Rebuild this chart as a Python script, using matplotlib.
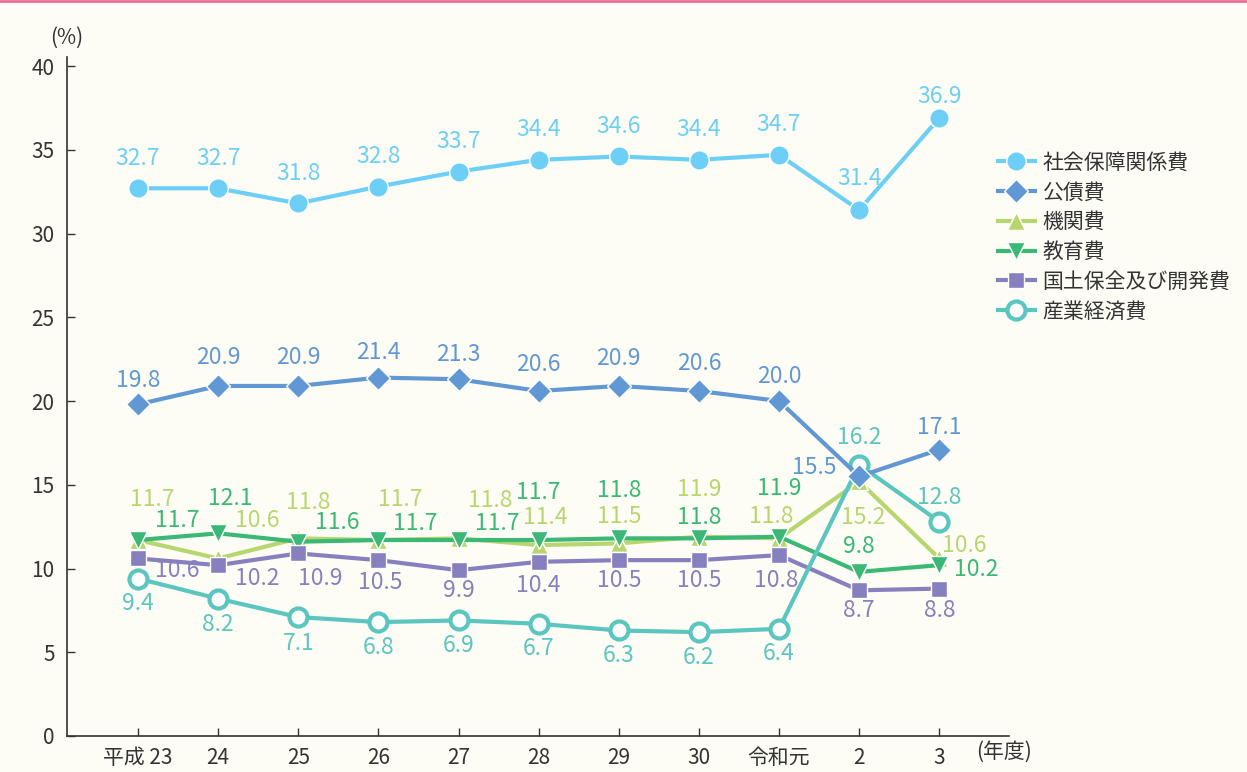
import matplotlib
matplotlib.use("Agg")
import matplotlib.pyplot as plt
from matplotlib.lines import Line2D
import numpy as np

plt.rcParams['font.family'] = ['Noto Sans CJK JP', 'DejaVu Sans']

years = ["平成 23", "24", "25", "26", "27", "28", "29", "30", "令和元", "2", "3"]

shakai = [32.7, 32.7, 31.8, 32.8, 33.7, 34.4, 34.6, 34.4, 34.7, 31.4, 36.9]
kousai = [19.8, 20.9, 20.9, 21.4, 21.3, 20.6, 20.9, 20.6, 20.0, 15.5, 17.1]
kikan = [11.7, 10.6, 11.8, 11.7, 11.8, 11.4, 11.5, 11.9, 11.8, 15.2, 10.6]
kyouiku = [11.7, 12.1, 11.6, 11.7, 11.7, 11.7, 11.8, 11.8, 11.9, 9.8, 10.2]
kokudo = [10.6, 10.2, 10.9, 10.5, 9.9, 10.4, 10.5, 10.5, 10.8, 8.7, 8.8]
sangyo = [9.4, 8.2, 7.1, 6.8, 6.9, 6.7, 6.3, 6.2, 6.4, 16.2, 12.8]

names = ["社会保障関係費", "公債費", "機関費", "教育費", "国土保全及び開発費", "産業経済費"]

# ラベル位置 (ピクセル, 画像座標: yは下向き)
off_shakai = [(0, -30)] * 9 + [(0, -32), (0, -21)]
off_kousai = [(0, -24), (0, -28), (0, -28), (0, -25), (0, -25), (0, -26),
              (0, -27), (0, -27), (0, -25), (-45, -9), (0, -22)]
off_kikan = [(14, -41), (39, -38), (10, -36), (22, -41), (32, -38), (7, -28),
             (0, -27), (0, -47), (-8, -22), (4, 36), (25, -13)]
off_kyouiku = [(39, -20), (12, -35), (39, -19), (37, -17), (39, -17), (0, -48),
               (0, -48), (0, -21), (0, -48), (0, -25), (37, 4)]
off_kokudo = [(39, 12), (39, 13), (22, 25), (2, 22), (0, 20), (0, 24),
              (0, 20), (0, 20), (-3, 25), (0, 20), (0, 22)]
off_sangyo = [(0, 25), (0, 26), (0, 26), (0, 25), (0, 25), (0, 25),
              (0, 25), (0, 25), (0, 25), (0, -27), (0, -24)]

# (値, ラベル位置, 色, マーカー, 塗り, サイズ, 重なり順)
series = [
    (shakai, off_shakai, '#6DCFF6', 'o', '#6DCFF6', 14, 3.0),
    (kousai, off_kousai, '#6198D3', 'D', '#6198D3', 12, 3.9),
    (kikan, off_kikan, '#B8D66F', '^', '#B8D66F', 13, 3.2),
    (kyouiku, off_kyouiku, '#3BB876', 'v', '#3BB876', 13, 3.3),
    (kokudo, off_kokudo, '#8780BE', 's', '#8780BE', 12, 3.4),
    (sangyo, off_sangyo, '#5BC5C0', 'o', 'white', 13, 3.5),
]

bg = '#FDFDF5'
fig = plt.figure(figsize=(12.47, 7.72), dpi=100, facecolor=bg)
ax = fig.add_axes([67 / 1247, 1 - 736 / 772, (1009 - 67) / 1247, (736 - 57) / 772])
ax.set_facecolor(bg)

x = np.arange(len(years))
handles = []
for i, (vals, offs, col, mk, fc, ms, zo) in enumerate(series):
    ecol = col if fc == 'white' else 'white'
    mew = 3 if fc == 'white' else 1
    h, = ax.plot(x, vals, color=col, linewidth=3, marker=mk, markersize=ms,
                 markerfacecolor=fc, markeredgecolor=ecol, markeredgewidth=mew,
                 label=names[i], zorder=zo, clip_on=False)
    handles.append(h)
    for xi, v, (dx, dy) in zip(x, vals, offs):
        ax.annotate(f"{v:.1f}", (xi, v), xytext=(dx, -dy), textcoords='offset pixels',
                    ha='center', va='center', fontsize=16.5, color=col, zorder=10)

ax.set_xlim(-0.886, 10.87)
ax.set_ylim(0, 40.54)
ax.set_yticks(range(0, 41, 5))
ax.set_xticks(x)
ax.set_xticklabels(years)
ax.tick_params(axis='both', direction='in', length=6, width=1, colors='#333333',
               labelsize=15, labelcolor='#333333')
ax.tick_params(axis='y', pad=9)
ax.tick_params(axis='x', pad=8)
for s in ['top', 'right']:
    ax.spines[s].set_visible(False)
for s in ['left', 'bottom']:
    ax.spines[s].set_color('#333333')
    ax.spines[s].set_linewidth(1.2)

fig.text(67 / 1247, 1 - 38 / 772, "(%)", ha='center', va='center', fontsize=15, color='#333333')
fig.text(1004 / 1247, 1 - 752 / 772, "(年度)", ha='center', va='center', fontsize=15, color='#333333')

fig.legend(handles=handles, loc='upper left', bbox_to_anchor=(979 / 1247, 1 - 133 / 772),
           frameon=False, fontsize=15, handlelength=1.8, handletextpad=0.35,
           labelspacing=0.37, labelcolor='#333333')

fig.add_artist(Line2D([0, 1], [1 - 1 / 772, 1 - 1 / 772], transform=fig.transFigure,
                      color='#EE6E9A', linewidth=2))

fig.savefig("out.png", dpi=100, facecolor=bg)
